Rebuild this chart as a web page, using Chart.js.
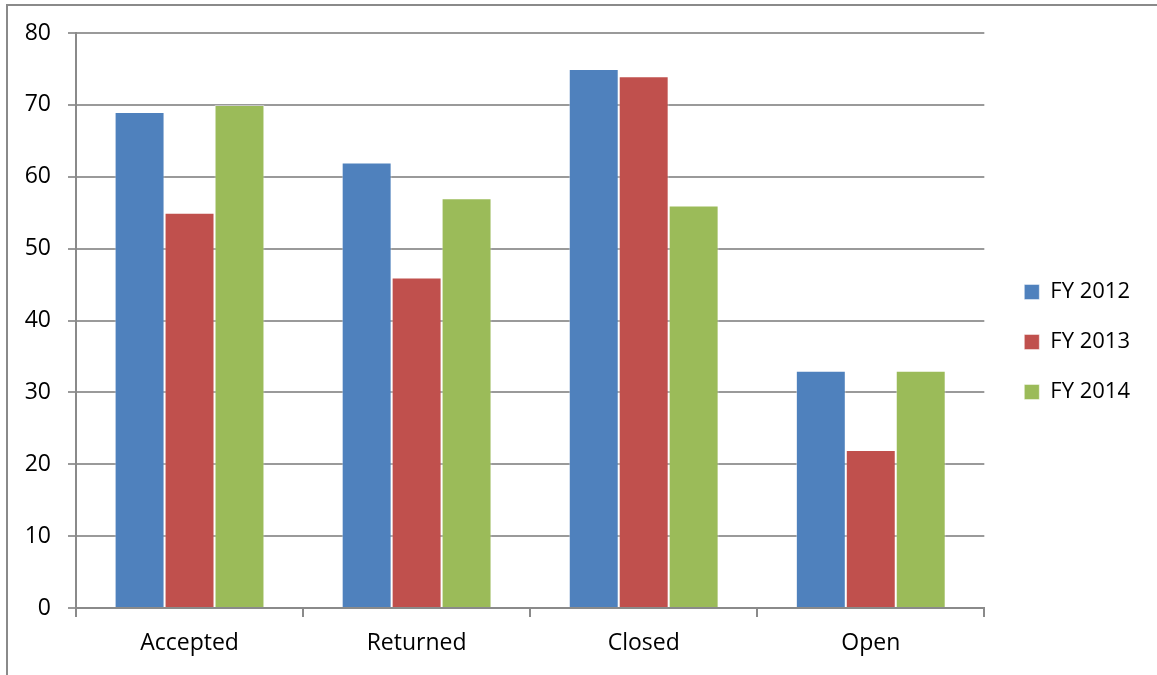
<!DOCTYPE html>
<html>
<head>
<meta charset="utf-8">
<script src="https://cdn.jsdelivr.net/npm/chart.js@4/dist/chart.umd.min.js"></script>
<style>
  html, body { margin: 0; padding: 0; background: #fff; }
  #wrap { position: relative; width: 1157px; height: 675px; overflow: hidden; }
  #frame { position: absolute; left: 6px; top: 4px; width: 1200px; height: 700px;
           border-left: 2px solid #8a8a8a; border-top: 2px solid #8a8a8a; box-sizing: border-box; }
  canvas { position: absolute; left: 0; top: 0; }
</style>
</head>
<body>
<div id="wrap">
  <div id="frame"></div>
  <canvas id="c" width="1157" height="675"></canvas>
</div>
<script>
const categories = ['Accepted', 'Returned', 'Closed', 'Open'];
const seriesNames = ['FY 2012', 'FY 2013', 'FY 2014'];
const fy2012 = [69, 62, 75, 33];
const fy2013 = [55, 46, 74, 22];
const fy2014 = [70, 57, 56, 33];
const yTicks = [0, 10, 20, 30, 40, 50, 60, 70, 80];

const colors = ['#4F81BD', '#C0504D', '#9BBB59'];
const FONT = '"Open Sans", "Noto Sans", sans-serif';

const ctx = document.getElementById('c');
Chart.defaults.font.family = FONT;
Chart.defaults.color = '#000';

const legendShift = {
  id: 'legendShift',
  beforeDraw(chart) {
    const lg = chart.legend;
    if (!lg._shifted) {
      lg.left += 12; lg.right += 12;
      lg.top -= 12; lg.bottom -= 12;
      lg._shifted = true;
    }
  }
};

new Chart(ctx, {
  type: 'bar',
  data: {
    labels: categories,
    datasets: [fy2012, fy2013, fy2014].map((d, i) => ({
      label: seriesNames[i],
      data: d,
      backgroundColor: colors[i],
      borderColor: 'rgba(255,255,255,0.45)',
      borderWidth: 1,
      barPercentage: 1.0,
      categoryPercentage: 0.66
    }))
  },
  plugins: [legendShift],
  options: {
    responsive: false,
    animation: false,
    devicePixelRatio: 1,
    layout: { padding: { top: 33, right: 29, bottom: 0, left: 0 } },
    plugins: {
      tooltip: { enabled: false },
      legend: {
        position: 'right',
        align: 'center',
        labels: {
          boxWidth: 15,
          boxHeight: 15,
          padding: 28,
          font: { size: 22, family: FONT },
          color: '#000'
        }
      }
    },
    scales: {
      x: {
        grid: { display: true, drawOnChartArea: false, drawTicks: true, tickLength: 9, offset: true, color: '#8a8a8a', lineWidth: 2 },
        border: { display: true, color: '#8a8a8a', width: 2 },
        ticks: { font: { size: 23, family: FONT }, color: '#000', padding: 13 },
        afterFit: (s) => { s.height = 67; }
      },
      y: {
        min: 0,
        max: 80,
        afterBuildTicks: (s) => { s.ticks = yTicks.map(v => ({ value: v })); },
        grid: { color: '#9a9a9a', lineWidth: 2, tickLength: 8 },
        border: { display: true, color: '#8a8a8a', width: 2 },
        ticks: { font: { size: 23, family: FONT }, color: '#000', padding: 17 },
        afterFit: (s) => { s.width = 76; }
      }
    }
  }
});
</script>
</body>
</html>
